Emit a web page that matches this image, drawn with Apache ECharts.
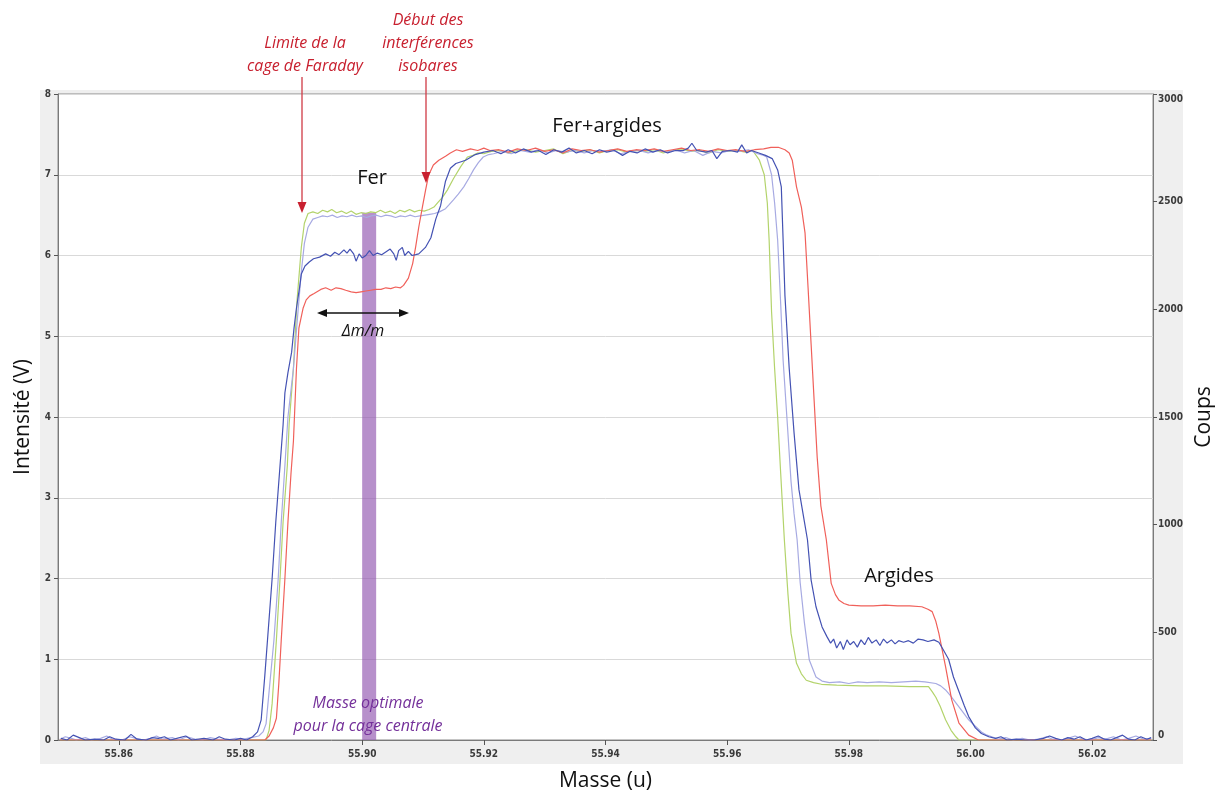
<!DOCTYPE html>
<html>
<head>
<meta charset="utf-8">
<script src="https://cdn.jsdelivr.net/npm/echarts@6/dist/echarts.min.js"></script>
<style>
html,body{margin:0;padding:0;background:#fff;}
#chart{width:1216px;height:790px;}
</style>
</head>
<body>
<div id="chart"></div>
<script>
// ---------- DATA ----------
const massTicks = [55.86, 55.88, 55.90, 55.92, 55.94, 55.96, 55.98, 56.00, 56.02];
const intensityTicks = [0, 1, 2, 3, 4, 5, 6, 7, 8];
const countTicks = [0, 500, 1000, 1500, 2000, 2500, 3000];

// optimal mass band for central cup
const optimalBand = [55.9000, 55.9023];
const optimalTop = 6.53;

// red series
const redMass = [55.8503,55.8700,55.8840,55.8847,55.8854,55.8859,55.8863,55.8867,55.8873,55.8878,55.8883,55.8887,55.8892,55.8896,55.8903,55.8908,55.8914,55.8921,55.8932,55.8940,55.8949,55.8957,55.8965,55.8973,55.8982,55.8990,55.8998,55.9006,55.9014,55.9022,55.9031,55.9039,55.9047,55.9055,55.9063,55.9068,55.9076,55.9083,55.9088,55.9093,55.9099,55.9104,55.9109,55.9117,55.9126,55.9137,55.9145,55.9155,55.9165,55.9178,55.9190,55.9200,55.9210,
55.9225,55.9240,55.9255,55.9270,55.9285,55.9300,55.9315,55.9330,55.9345,55.9360,55.9375,55.9390,55.9405,55.9420,55.9435,55.9450,55.9465,55.9480,55.9495,55.9510,55.9525,55.9540,55.9555,55.9570,55.9585,55.9600,55.9615,55.9630,55.9645,55.9660,55.9672,55.9684,55.9695,55.9702,55.9707,55.9714,55.9722,55.9728,55.9733,55.9738,55.9743,55.9748,55.9754,55.9763,55.9771,55.9778,55.9784,55.9792,55.9800,55.9820,55.9840,55.9860,55.9880,55.9900,55.9920,55.9930,55.9937,55.9943,55.9948,55.9959,55.9969,55.9981,55.9997,56.0013,56.0297];
const redInt = [0,0,0,0.05,0.15,0.27,0.7,1.24,2.0,2.7,3.3,3.7,4.6,5.1,5.35,5.45,5.5,5.53,5.58,5.6,5.57,5.6,5.59,5.57,5.55,5.54,5.55,5.56,5.57,5.58,5.58,5.6,5.59,5.61,5.6,5.63,5.72,5.9,6.11,6.35,6.6,6.8,6.99,7.12,7.18,7.23,7.27,7.31,7.29,7.32,7.3,7.33,7.3,
7.31,7.28,7.32,7.3,7.33,7.29,7.31,7.27,7.32,7.3,7.31,7.28,7.3,7.32,7.29,7.31,7.3,7.32,7.29,7.31,7.33,7.3,7.31,7.29,7.32,7.3,7.31,7.29,7.31,7.32,7.34,7.34,7.31,7.27,7.18,6.85,6.6,6.28,5.6,4.9,4.2,3.5,2.9,2.48,1.94,1.8,1.73,1.69,1.67,1.66,1.66,1.67,1.66,1.66,1.65,1.62,1.59,1.47,1.32,0.91,0.5,0.21,0.06,0,0];

// yellow-green series
const greenMass = [55.8503,55.8842,55.8847,55.8852,55.8859,55.8865,55.8870,55.8877,55.8880,55.8887,55.8893,55.8900,55.8905,55.8911,55.8919,55.8927,55.8935,55.8943,55.8950,55.8958,55.8966,55.8974,55.8982,55.8990,55.8998,55.9006,55.9014,55.9022,55.9030,55.9038,55.9046,55.9054,55.9062,55.9070,55.9078,55.9086,55.9094,55.9102,55.9110,55.9118,55.9125,55.9132,55.9140,55.9150,55.9162,55.9173,55.9182,55.9190,55.9200,55.9212,
55.9225,55.9240,55.9255,55.9270,55.9285,55.9300,55.9315,55.9330,55.9345,55.9360,55.9375,55.9390,55.9405,55.9420,55.9435,55.9450,55.9465,55.9480,55.9495,55.9510,55.9525,55.9540,55.9555,55.9570,55.9585,55.9600,55.9615,55.9630,55.9642,55.9653,55.9661,55.9666,55.9669,55.9673,55.9678,55.9683,55.9688,55.9694,55.9700,55.9705,55.9714,55.9722,55.9730,55.9742,55.9755,55.9780,55.9820,55.9860,55.9900,55.9931,55.9937,55.9943,55.9950,55.9959,55.9968,55.9976,55.9981,56.0297];
const greenInt = [0,0,0.12,0.45,1.24,2.0,2.7,3.4,3.92,4.6,5.45,6.1,6.4,6.52,6.54,6.52,6.56,6.54,6.57,6.53,6.55,6.52,6.55,6.51,6.53,6.52,6.54,6.53,6.56,6.53,6.55,6.52,6.56,6.54,6.57,6.54,6.56,6.55,6.57,6.6,6.66,6.72,6.81,6.95,7.1,7.22,7.24,7.27,7.26,7.29,
7.3,7.27,7.3,7.31,7.28,7.3,7.32,7.26,7.3,7.29,7.31,7.27,7.3,7.31,7.28,7.3,7.29,7.31,7.27,7.3,7.32,7.29,7.3,7.27,7.31,7.29,7.3,7.28,7.3,7.18,7.0,6.65,6.19,5.3,4.6,4.0,3.3,2.48,1.8,1.32,0.95,0.82,0.74,0.71,0.69,0.68,0.67,0.67,0.66,0.66,0.6,0.53,0.42,0.25,0.12,0.04,0,0];

// light blue (lavender) series
const lavMass = [55.8503,55.8512,55.8522,55.8530,55.8545,55.8555,55.8570,55.8580,55.8590,55.8605,55.8618,55.8628,55.8640,55.8652,55.8662,55.8672,55.8688,55.8698,55.8712,55.8725,55.8738,55.8750,55.8762,55.8778,55.8792,55.8805,55.8818,55.8830,55.8837,55.8842,55.8847,55.8855,55.8862,55.8867,55.8873,55.8878,55.8887,55.8895,55.8900,55.8905,55.8911,55.8919,55.8927,55.8935,55.8943,55.8951,55.8959,55.8967,55.8975,55.8983,55.8991,55.8999,55.9007,55.9015,55.9023,55.9031,55.9039,55.9047,55.9055,55.9063,55.9071,55.9079,55.9087,55.9095,55.9103,55.9111,55.9119,55.9127,55.9137,55.9143,55.9150,55.9158,55.9167,55.9175,55.9183,55.9191,55.9199,55.9208,55.9216,
55.9230,55.9245,55.9260,55.9275,55.9290,55.9305,55.9320,55.9335,55.9350,55.9365,55.9380,55.9395,55.9410,55.9425,55.9440,55.9455,55.9470,55.9485,55.9500,55.9515,55.9530,55.9545,55.9560,55.9575,55.9590,55.9605,55.9620,55.9635,55.9650,55.9660,55.9665,55.9673,55.9678,55.9683,55.9688,55.9692,55.9699,55.9705,55.9710,55.9715,55.9720,55.9727,55.9735,55.9746,55.9756,55.9768,55.9785,55.9800,55.9815,55.9830,55.9850,55.9870,55.9890,55.9910,55.9925,55.9943,55.9951,55.9959,55.9967,55.9976,55.9986,55.9997,56.0008,56.0018,56.0027,56.0035,56.0046,
56.0058,56.0070,56.0085,56.0098,56.0112,56.0125,56.0135,56.0148,56.0160,56.0172,56.0185,56.0198,56.0210,56.0222,56.0235,56.0248,56.0260,56.0272,56.0285,56.0297];
const lavInt = [0.01,0.04,0.02,0,0.03,0,0.02,0.05,0.01,0,0.04,0.02,0,0.02,0.05,0.01,0.03,0,0.04,0.01,0,0.03,0.01,0,0.02,0.01,0.03,0.05,0.1,0.2,0.6,1.24,2.0,2.7,3.4,4.0,4.6,5.35,5.8,6.15,6.35,6.45,6.47,6.49,6.48,6.5,6.47,6.49,6.48,6.5,6.48,6.49,6.47,6.49,6.5,6.48,6.5,6.49,6.47,6.49,6.48,6.5,6.48,6.49,6.5,6.51,6.52,6.54,6.58,6.63,6.69,6.76,6.85,6.95,7.06,7.15,7.22,7.25,7.26,
7.29,7.26,7.3,7.28,7.31,7.27,7.3,7.28,7.3,7.27,7.3,7.29,7.31,7.26,7.29,7.3,7.27,7.3,7.28,7.31,7.27,7.3,7.24,7.29,7.27,7.3,7.29,7.31,7.26,7.24,7.22,7.0,6.65,6.19,5.4,4.7,3.9,3.2,2.8,2.48,1.95,1.45,0.99,0.78,0.73,0.71,0.72,0.7,0.72,0.71,0.72,0.71,0.72,0.73,0.72,0.7,0.67,0.62,0.55,0.46,0.36,0.25,0.17,0.1,0.06,0.04,0.01,
0.03,0,0.02,0,0.01,0.04,0.01,0,0.02,0.05,0.01,0,0.03,0.01,0.04,0,0.02,0.05,0.01,0.02];

// dark blue (navy) series
const navyMass = [55.8505,55.8515,55.8525,55.8535,55.8545,55.8560,55.8575,55.8585,55.8595,55.8610,55.8620,55.8630,55.8645,55.8655,55.8665,55.8675,55.8685,55.8700,55.8710,55.8720,55.8740,55.8755,55.8765,55.8775,55.8790,55.8800,55.8810,55.8820,55.8828,55.8834,55.8840,55.8845,55.8852,55.8858,55.8865,55.8870,55.8873,55.8878,55.8884,55.8888,55.8892,55.8897,55.8900,55.8906,55.8913,55.8920,55.8930,55.8940,55.8948,55.8955,55.8962,55.8970,55.8975,55.8980,55.8986,55.8990,55.8995,55.9000,55.9006,55.9012,55.9018,55.9025,55.9032,55.9040,55.9046,55.9052,55.9056,55.9060,55.9066,55.9070,55.9076,55.9082,55.9088,55.9093,55.9104,55.9113,55.9121,55.9129,55.9137,55.9145,55.9154,55.9170,55.9186,55.9200,
55.9215,55.9228,55.9240,55.9252,55.9265,55.9278,55.9290,55.9302,55.9315,55.9328,55.9340,55.9352,55.9365,55.9378,55.9390,55.9402,55.9415,55.9428,55.9440,55.9452,55.9465,55.9478,55.9490,55.9502,55.9515,55.9528,55.9536,55.9542,55.9550,55.9565,55.9575,55.9583,55.9592,55.9605,55.9617,55.9624,55.9632,55.9640,55.9652,55.9663,55.9674,55.9683,55.9689,55.9692,55.9695,55.9702,55.9710,55.9718,55.9727,55.9732,55.9738,55.9746,55.9756,55.9764,55.9770,55.9775,55.9780,55.9786,55.9791,55.9797,55.9802,55.9808,55.9814,55.9820,55.9826,55.9832,55.9838,55.9845,55.9851,55.9857,55.9863,55.9870,55.9876,55.9882,55.9890,55.9898,55.9906,55.9914,55.9922,55.9930,55.9940,55.9948,55.9955,55.9964,55.9972,55.9981,55.9990,55.9997,56.0008,56.0018,56.0030,56.0041,
56.0050,56.0060,56.0075,56.0090,56.0105,56.0120,56.0130,56.0140,56.0150,56.0160,56.0170,56.0180,56.0190,56.0200,56.0210,56.0220,56.0230,56.0240,56.0250,56.0260,56.0270,56.0280,56.0290,56.0297];
const navyInt = [0.02,0,0.06,0.03,0,0.01,0,0.04,0.01,0,0.07,0.01,0,0.03,0.02,0.04,0,0.03,0.05,0,0.02,0,0.04,0.01,0,0.02,0,0.04,0.1,0.25,0.8,1.3,2.0,2.7,3.4,3.9,4.3,4.55,4.8,5.1,5.35,5.6,5.77,5.87,5.92,5.96,5.98,6.02,5.99,6.04,6.01,6.07,6.03,6.08,6.02,5.93,6.02,5.97,6.0,6.06,6.0,6.03,6.01,6.05,6.08,6.02,5.94,6.06,6.1,6.0,6.05,6.0,6.01,6.02,6.1,6.22,6.45,6.62,6.92,7.08,7.14,7.18,7.25,7.28,
7.3,7.26,7.31,7.27,7.32,7.28,7.3,7.25,7.31,7.28,7.33,7.27,7.3,7.26,7.31,7.28,7.3,7.24,7.29,7.27,7.32,7.28,7.31,7.27,7.3,7.3,7.33,7.39,7.3,7.28,7.3,7.2,7.29,7.3,7.28,7.37,7.27,7.3,7.27,7.24,7.2,7.06,6.85,6.19,5.5,4.6,3.8,3.1,2.7,2.48,1.98,1.65,1.4,1.28,1.2,1.25,1.14,1.22,1.12,1.24,1.18,1.22,1.15,1.24,1.18,1.27,1.2,1.24,1.17,1.25,1.2,1.24,1.19,1.23,1.21,1.23,1.2,1.25,1.24,1.22,1.24,1.21,1.12,1.0,0.78,0.6,0.42,0.29,0.15,0.08,0.04,0.02,
0.04,0,0.01,0,0,0.02,0.05,0.02,0,0.03,0.01,0.04,0,0.02,0.05,0.01,0,0.03,0.06,0.01,0,0.04,0.01,0.03];

// ---------- CHART ----------
const zip = (xs, ys) => xs.map((x, i) => [x, ys[i]]);
const chart = echarts.init(document.getElementById('chart'), null, {renderer: 'canvas'});

const tickFont = {fontFamily: 'DejaVu Sans Condensed, DejaVu Sans, sans-serif', fontSize: 10, fontWeight: 'bold', color: '#3a3a3a'};
const nameFont = {fontFamily: 'Open Sans, sans-serif', fontSize: 21, color: '#111'};
const lineSeries = (name, data, color, z) => ({
  name, type: 'line', data, showSymbol: false, symbol: 'none', z,
  lineStyle: {color, width: 1.2}, itemStyle: {color}, animation: false
});

const redAnn = '#c8202f';
const ann = (text, x, y, extra) => Object.assign({
  type: 'text', x, y, z: 100,
  style: Object.assign({text, fill: '#111', font: '20px "Open Sans", sans-serif', textAlign: 'center', textVerticalAlign: 'middle'}, extra || {})
});
const itFont = 'italic 16px "Open Sans", sans-serif';

chart.setOption({
  animation: false,
  backgroundColor: '#ffffff',
  grid: {left: 58, right: 63, top: 94, bottom: 50, containLabel: false, outerBoundsMode: 'none',
         show: true, backgroundColor: '#ffffff', borderColor: '#8a8a8a', borderWidth: 1},
  xAxis: {
    type: 'value', min: 55.85, max: 56.03,
    name: 'Masse (u)', nameLocation: 'middle', nameGap: 31, nameTextStyle: nameFont,
    axisLine: {show: true, lineStyle: {color: '#7a7a7a'}},
    axisTick: {show: true, customValues: massTicks, length: 5, lineStyle: {color: '#555'}},
    axisLabel: Object.assign({customValues: massTicks, margin: 9, formatter: v => v.toFixed(2)}, tickFont),
    splitLine: {show: false}
  },
  yAxis: [{
    type: 'value', min: 0, max: 8, interval: 1, position: 'left',
    name: 'Intensité (V)', nameLocation: 'middle', nameGap: 20, nameRotate: 90, nameTextStyle: nameFont,
    axisLine: {show: true, lineStyle: {color: '#7a7a7a'}},
    axisTick: {show: true, length: 4, lineStyle: {color: '#555'}},
    axisLabel: Object.assign({margin: 7, formatter: v => String(v)}, tickFont),
    splitLine: {show: true, lineStyle: {color: '#d9d9d9', width: 1}}
  }, {
    type: 'value', min: 0, max: 3000, interval: 500, position: 'right',
    name: 'Coups', nameLocation: 'middle', nameGap: 40, nameRotate: 90, nameTextStyle: nameFont,
    axisLine: {show: true, lineStyle: {color: '#7a7a7a'}},
    axisTick: {show: true, length: 4, lineStyle: {color: '#555'}},
    axisLabel: Object.assign({margin: 5, formatter: v => String(v), verticalAlignMinLabel: 'bottom', verticalAlignMaxLabel: 'top'}, tickFont),
    splitLine: {show: false}
  }],
  series: [
    lineSeries('vert', zip(greenMass, greenInt), '#b3d36b', 2),
    lineSeries('bleu clair', zip(lavMass, lavInt), '#a7aae2', 3),
    lineSeries('rouge', zip(redMass, redInt), '#f0605a', 4),
    lineSeries('bleu', zip(navyMass, navyInt), '#4452b3', 5),
    {
      type: 'line', data: [], z: 10, silent: true,
      markArea: {
        silent: true,
        itemStyle: {color: 'rgba(145,85,175,0.65)'},
        data: [[{xAxis: optimalBand[0], yAxis: 0}, {xAxis: optimalBand[1], yAxis: optimalTop}]]
      }
    }
  ],
  graphic: [
    {type: 'rect', z: -100, silent: true, shape: {x: 40, y: 90, width: 1143, height: 674}, style: {fill: '#efefef'}},
    // annotations
    ann('Limite de la', 305, 43, {fill: redAnn, font: itFont}),
    ann('cage de Faraday', 305, 66, {fill: redAnn, font: itFont}),
    ann('Début des', 428, 20, {fill: redAnn, font: itFont}),
    ann('interférences', 428, 43, {fill: redAnn, font: itFont}),
    ann('isobares', 428, 66, {fill: redAnn, font: itFont}),
    {type: 'line', z: 100, shape: {x1: 302, y1: 77, x2: 302, y2: 205}, style: {stroke: '#d03a45', lineWidth: 1.3}},
    {type: 'polygon', z: 100, shape: {points: [[297.5, 202], [306.5, 202], [302, 213]]}, style: {fill: '#c8202f'}},
    {type: 'line', z: 100, shape: {x1: 426, y1: 77, x2: 426, y2: 175}, style: {stroke: '#d03a45', lineWidth: 1.3}},
    {type: 'polygon', z: 100, shape: {points: [[421.5, 172], [430.5, 172], [426, 183]]}, style: {fill: '#c8202f'}},
    ann('Fer', 372, 178),
    ann('Fer+argides', 607, 126),
    ann('Argides', 899, 576),
    // delta m / m arrow
    {type: 'line', z: 100, shape: {x1: 322, y1: 313, x2: 404, y2: 313}, style: {stroke: '#111', lineWidth: 1.3}},
    {type: 'polygon', z: 100, shape: {points: [[317, 313], [327, 309], [327, 317]]}, style: {fill: '#111'}},
    {type: 'polygon', z: 100, shape: {points: [[409, 313], [399, 309], [399, 317]]}, style: {fill: '#111'}},
    ann('Δm/m', 363, 331, {font: itFont}),
    ann('Masse optimale', 368, 703, {fill: '#74309a', font: itFont}),
    ann('pour la cage centrale', 368, 726, {fill: '#74309a', font: itFont})
  ]
});
</script>
</body>
</html>
